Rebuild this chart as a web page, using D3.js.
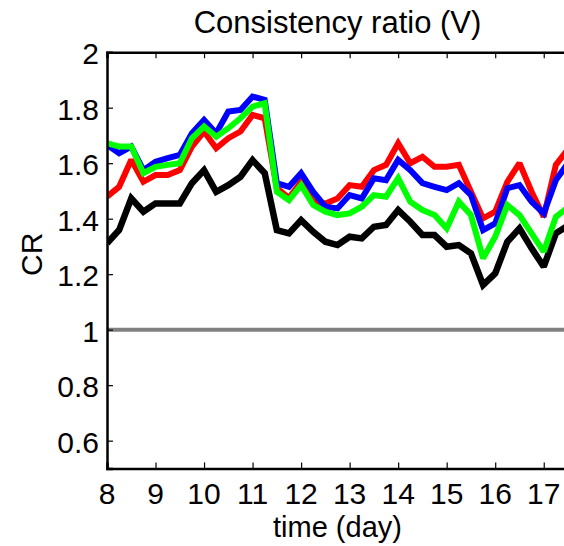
<!DOCTYPE html>
<html>
<head>
<meta charset="utf-8">
<script src="https://cdn.jsdelivr.net/npm/d3@7/dist/d3.min.js"></script>
<style>
  html, body { margin: 0; padding: 0; background: #fff; }
  svg { display: block; }
  text { font-family: "Liberation Sans", Arial, Helvetica, sans-serif; fill: #000; }
</style>
</head>
<body>
<div id="chart"></div>
<script>
// Sampling times (days), every 6 hours
const days = d3.range(0, 39).map(i => 8 + i * 0.25);

// Consistency ratio series
const seriesBlack = [1.311, 1.359, 1.473, 1.425, 1.455, 1.455, 1.455, 1.528, 1.575, 1.497,
  1.521, 1.551, 1.611, 1.564, 1.359, 1.347, 1.395, 1.353, 1.317, 1.305,
  1.335, 1.329, 1.371, 1.377, 1.431, 1.389, 1.341, 1.341, 1.299, 1.305,
  1.275, 1.161, 1.203, 1.317, 1.365, 1.293, 1.227, 1.347, 1.375];
const seriesRed = [1.479, 1.515, 1.612, 1.533, 1.557, 1.557, 1.575, 1.660, 1.714, 1.654,
  1.690, 1.714, 1.774, 1.762, 1.510, 1.474, 1.533, 1.461, 1.455, 1.473,
  1.521, 1.515, 1.575, 1.594, 1.672, 1.600, 1.623, 1.587, 1.587, 1.594,
  1.497, 1.401, 1.425, 1.533, 1.600, 1.497, 1.407, 1.594, 1.650];
const seriesBlue = [1.666, 1.636, 1.660, 1.575, 1.605, 1.618, 1.630, 1.708, 1.756, 1.708,
  1.786, 1.792, 1.840, 1.828, 1.528, 1.515, 1.564, 1.497, 1.443, 1.437,
  1.485, 1.473, 1.546, 1.539, 1.612, 1.575, 1.528, 1.515, 1.503, 1.528,
  1.485, 1.359, 1.383, 1.510, 1.521, 1.461, 1.419, 1.539, 1.600];
const seriesGreen = [1.672, 1.660, 1.660, 1.564, 1.587, 1.594, 1.600, 1.690, 1.732, 1.695,
  1.726, 1.762, 1.804, 1.816, 1.497, 1.467, 1.521, 1.449, 1.425, 1.413,
  1.419, 1.443, 1.485, 1.479, 1.546, 1.461, 1.431, 1.413, 1.365, 1.461,
  1.413, 1.257, 1.335, 1.449, 1.413, 1.347, 1.281, 1.407, 1.440];

// Reference level CR = 1
const referenceLevel = [1];

// Axis ticks
const xTicks = [8, 9, 10, 11, 12, 13, 14, 15, 16, 17];
const yTicks = [0.6, 0.8, 1, 1.2, 1.4, 1.6, 1.8, 2];

const width = 564, height = 546;
const margin = { left: 107, right: -4, top: 52.2, bottom: 77.6 };

const x = d3.scaleLinear().domain([8, 17.5]).range([margin.left, width - margin.right]);
const y = d3.scaleLinear().domain([0.5, 2]).range([height - margin.bottom, margin.top]);

const svg = d3.select("#chart").append("svg")
  .attr("width", width).attr("height", height);

svg.append("defs").append("clipPath").attr("id", "plot-clip")
  .append("rect")
  .attr("x", x.range()[0]).attr("y", y.range()[1])
  .attr("width", x.range()[1] - x.range()[0])
  .attr("height", y.range()[0] - y.range()[1]);

const plot = svg.append("g").attr("clip-path", "url(#plot-clip)");

// Reference line at 1
plot.selectAll("line.ref").data(referenceLevel).enter().append("line")
  .attr("class", "ref")
  .attr("x1", x.range()[0]).attr("x2", x.range()[1])
  .attr("y1", d => y(d)).attr("y2", d => y(d))
  .attr("stroke", "#808080").attr("stroke-width", 4);

const line = d3.line().x((d, i) => x(days[i])).y(d => y(d));

const series = [
  { values: seriesBlack, color: "#000000", w: 6.5 },
  { values: seriesRed, color: "#ff0000", w: 6 },
  { values: seriesBlue, color: "#0000ff", w: 6 },
  { values: seriesGreen, color: "#00ff00", w: 6 }
];

plot.selectAll("path.series").data(series).enter().append("path")
  .attr("class", "series")
  .attr("d", d => line(d.values))
  .attr("fill", "none")
  .attr("stroke", d => d.color)
  .attr("stroke-width", d => d.w)
  .attr("stroke-linejoin", "miter")
  .attr("stroke-miterlimit", 2);

// Axes: ticks point inward, labels drawn separately
const fontSize = 30;
const tickLen = 6;

const xAxisBottom = d3.axisBottom(x).tickValues(xTicks).tickSize(-tickLen).tickFormat("");
const xAxisTop = d3.axisTop(x).tickValues(xTicks).tickSize(-tickLen).tickFormat("");
const yAxisLeft = d3.axisLeft(y).tickValues(yTicks).tickSize(-tickLen).tickFormat("");

function styleAxis(g) {
  g.selectAll("path.domain").attr("stroke", "#000").attr("stroke-width", 2.5);
  g.selectAll(".tick line").attr("stroke", "#000").attr("stroke-width", 1.2);
}

svg.append("g").attr("transform", `translate(0,${y.range()[0]})`).call(xAxisBottom).call(styleAxis);
svg.append("g").attr("transform", `translate(0,${y.range()[1]})`).call(xAxisTop).call(styleAxis);
svg.append("g").attr("transform", `translate(${x.range()[0]},0)`).call(yAxisLeft).call(styleAxis);

// Tick labels
svg.selectAll("text.xlab").data(xTicks).enter().append("text")
  .attr("class", "xlab")
  .attr("x", d => x(d)).attr("y", 504)
  .attr("text-anchor", "middle")
  .attr("font-size", fontSize)
  .text(d => d);

svg.selectAll("text.ylab").data(yTicks).enter().append("text")
  .attr("class", "ylab")
  .attr("x", 99).attr("y", d => y(d) + 12)
  .attr("text-anchor", "end")
  .attr("font-size", fontSize)
  .text(d => d3.format("~g")(d));

// Titles
const cx = (x.range()[0] + x.range()[1]) / 2;
svg.append("text")
  .attr("x", cx).attr("y", 33)
  .attr("text-anchor", "middle")
  .attr("font-size", 31)
  .text("Consistency ratio (V)");

svg.append("text")
  .attr("x", cx).attr("y", 537)
  .attr("text-anchor", "middle")
  .attr("font-size", 29)
  .text("time (day)");

svg.append("text")
  .attr("transform", `translate(42,${(y.range()[0] + y.range()[1]) / 2 - 6}) rotate(-90)`)
  .attr("text-anchor", "middle")
  .attr("font-size", fontSize)
  .text("CR");
</script>
</body>
</html>
